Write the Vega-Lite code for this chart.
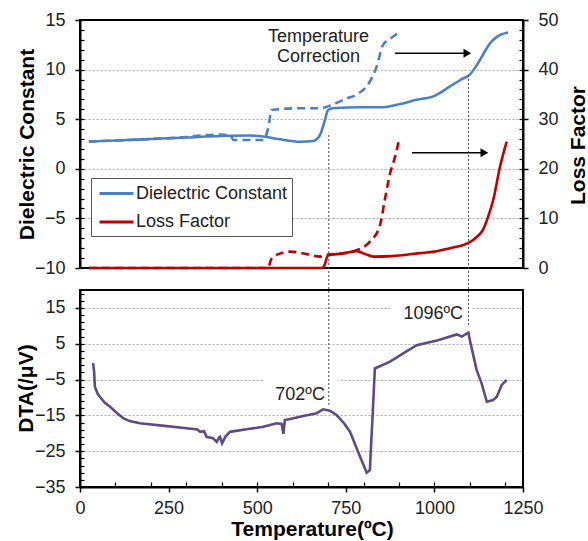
{
  "$schema": "https://vega.github.io/schema/vega-lite/v6.json",
  "width": 443,
  "height": 467,
  "autosize": {"type": "none"},
  "padding": {"left": 80, "top": 20, "right": 65, "bottom": 54},
  "background": "white",
  "config": {
    "view": {"stroke": null},
    "font": "Liberation Sans",
    "axis": {
      "labelFont": "Liberation Sans",
      "titleFont": "Liberation Sans",
      "labelFontSize": 18,
      "labelColor": "#222",
      "titleFontSize": 21,
      "titleFontWeight": "bold",
      "titleColor": "#000",
      "tickColor": "#000",
      "domainColor": "#000",
      "grid": false,
      "labelFlush": false,
      "labelOverlap": false
    },
    "legend": {"labelFont": "Liberation Sans"},
    "text": {"font": "Liberation Sans"}
  },
  "datasets": {
    "dielM": [
      {"T": 25, "v": 2.75, "s": "Dielectric Constant"}, {"T": 100, "v": 2.85, "s": "Dielectric Constant"},
      {"T": 200, "v": 3.0, "s": "Dielectric Constant"}, {"T": 300, "v": 3.15, "s": "Dielectric Constant"},
      {"T": 400, "v": 3.3, "s": "Dielectric Constant"}, {"T": 480, "v": 3.35, "s": "Dielectric Constant"},
      {"T": 517, "v": 3.25, "s": "Dielectric Constant"}, {"T": 560, "v": 3.0, "s": "Dielectric Constant"},
      {"T": 621, "v": 2.73, "s": "Dielectric Constant"}, {"T": 658, "v": 2.8, "s": "Dielectric Constant"},
      {"T": 677, "v": 3.4, "s": "Dielectric Constant"}, {"T": 691, "v": 4.9, "s": "Dielectric Constant"},
      {"T": 700, "v": 5.93, "s": "Dielectric Constant"}, {"T": 714, "v": 6.1, "s": "Dielectric Constant"},
      {"T": 790, "v": 6.2, "s": "Dielectric Constant"}, {"T": 855, "v": 6.2, "s": "Dielectric Constant"},
      {"T": 900, "v": 6.5, "s": "Dielectric Constant"}, {"T": 950, "v": 6.95, "s": "Dielectric Constant"},
      {"T": 997, "v": 7.3, "s": "Dielectric Constant"}, {"T": 1044, "v": 8.3, "s": "Dielectric Constant"},
      {"T": 1075, "v": 9.0, "s": "Dielectric Constant"}, {"T": 1100, "v": 9.5, "s": "Dielectric Constant"},
      {"T": 1115, "v": 10.2, "s": "Dielectric Constant"}, {"T": 1129, "v": 11.0, "s": "Dielectric Constant"},
      {"T": 1145, "v": 12.0, "s": "Dielectric Constant"}, {"T": 1157, "v": 12.65, "s": "Dielectric Constant"},
      {"T": 1176, "v": 13.3, "s": "Dielectric Constant"}, {"T": 1208, "v": 13.75, "s": "Dielectric Constant"}
    ],
    "dielC": [
      {"T": 25, "v": 2.75, "s": "Dielectric Constant"}, {"T": 100, "v": 2.85, "s": "Dielectric Constant"},
      {"T": 200, "v": 3.0, "s": "Dielectric Constant"}, {"T": 300, "v": 3.2, "s": "Dielectric Constant"},
      {"T": 339, "v": 3.35, "s": "Dielectric Constant"}, {"T": 395, "v": 3.45, "s": "Dielectric Constant"},
      {"T": 425, "v": 3.3, "s": "Dielectric Constant"}, {"T": 433, "v": 2.9, "s": "Dielectric Constant"},
      {"T": 517, "v": 2.9, "s": "Dielectric Constant"}, {"T": 531, "v": 4.1, "s": "Dielectric Constant"},
      {"T": 541, "v": 5.93, "s": "Dielectric Constant"}, {"T": 621, "v": 6.1, "s": "Dielectric Constant"},
      {"T": 677, "v": 6.1, "s": "Dielectric Constant"}, {"T": 714, "v": 6.5, "s": "Dielectric Constant"},
      {"T": 753, "v": 7.1, "s": "Dielectric Constant"}, {"T": 781, "v": 7.5, "s": "Dielectric Constant"},
      {"T": 818, "v": 8.8, "s": "Dielectric Constant"}, {"T": 837, "v": 10.3, "s": "Dielectric Constant"},
      {"T": 855, "v": 12.5, "s": "Dielectric Constant"}, {"T": 875, "v": 13.1, "s": "Dielectric Constant"},
      {"T": 898, "v": 13.7, "s": "Dielectric Constant"}
    ],
    "lossM": [
      {"T": 25, "v": 0, "s": "Loss Factor"}, {"T": 300, "v": 0, "s": "Loss Factor"},
      {"T": 600, "v": 0, "s": "Loss Factor"}, {"T": 682, "v": 0, "s": "Loss Factor"},
      {"T": 690, "v": 0.6, "s": "Loss Factor"}, {"T": 700, "v": 2.6, "s": "Loss Factor"},
      {"T": 740, "v": 2.9, "s": "Loss Factor"}, {"T": 781, "v": 3.4, "s": "Loss Factor"},
      {"T": 805, "v": 2.8, "s": "Loss Factor"}, {"T": 828, "v": 2.3, "s": "Loss Factor"},
      {"T": 880, "v": 2.4, "s": "Loss Factor"}, {"T": 959, "v": 3.0, "s": "Loss Factor"},
      {"T": 1000, "v": 3.3, "s": "Loss Factor"}, {"T": 1044, "v": 4.0, "s": "Loss Factor"},
      {"T": 1080, "v": 4.6, "s": "Loss Factor"}, {"T": 1100, "v": 5.2, "s": "Loss Factor"},
      {"T": 1120, "v": 6.3, "s": "Loss Factor"}, {"T": 1137, "v": 7.7, "s": "Loss Factor"},
      {"T": 1150, "v": 10.0, "s": "Loss Factor"}, {"T": 1166, "v": 13.7, "s": "Loss Factor"},
      {"T": 1185, "v": 20.4, "s": "Loss Factor"}, {"T": 1204, "v": 25.5, "s": "Loss Factor"}
    ],
    "lossC": [
      {"T": 25, "v": 0, "s": "Loss Factor"}, {"T": 300, "v": 0, "s": "Loss Factor"},
      {"T": 531, "v": 0, "s": "Loss Factor"}, {"T": 538, "v": 1.5, "s": "Loss Factor"},
      {"T": 545, "v": 2.3, "s": "Loss Factor"}, {"T": 593, "v": 3.3, "s": "Loss Factor"},
      {"T": 640, "v": 2.8, "s": "Loss Factor"}, {"T": 677, "v": 2.3, "s": "Loss Factor"},
      {"T": 700, "v": 2.7, "s": "Loss Factor"}, {"T": 734, "v": 2.9, "s": "Loss Factor"},
      {"T": 781, "v": 3.6, "s": "Loss Factor"}, {"T": 818, "v": 5.3, "s": "Loss Factor"},
      {"T": 846, "v": 8.5, "s": "Loss Factor"}, {"T": 860, "v": 13.7, "s": "Loss Factor"},
      {"T": 875, "v": 19.1, "s": "Loss Factor"}, {"T": 889, "v": 22.4, "s": "Loss Factor"},
      {"T": 900, "v": 25.8, "s": "Loss Factor"}
    ],
    "dta": [
      {"T": 37, "v": -0.4}, {"T": 40, "v": -3}, {"T": 42, "v": -7}, {"T": 50, "v": -9},
      {"T": 56, "v": -9.8}, {"T": 70, "v": -11.5}, {"T": 85, "v": -12.6}, {"T": 100, "v": -14},
      {"T": 122, "v": -15.8}, {"T": 140, "v": -16.6}, {"T": 169, "v": -17.2}, {"T": 245, "v": -18},
      {"T": 320, "v": -18.8}, {"T": 330, "v": -18.9}, {"T": 339, "v": -19.6}, {"T": 350, "v": -19.4},
      {"T": 357, "v": -21}, {"T": 375, "v": -21.4}, {"T": 386, "v": -22.4}, {"T": 392, "v": -21.2},
      {"T": 395, "v": -21}, {"T": 401, "v": -22.8}, {"T": 410, "v": -21}, {"T": 423, "v": -19.6},
      {"T": 470, "v": -18.9}, {"T": 517, "v": -18.2}, {"T": 555, "v": -17.2}, {"T": 569, "v": -17.4},
      {"T": 574, "v": -20.2}, {"T": 578, "v": -16.3}, {"T": 593, "v": -16.0}, {"T": 630, "v": -15.2},
      {"T": 668, "v": -14.4}, {"T": 686, "v": -13.3}, {"T": 705, "v": -13.7}, {"T": 724, "v": -14.9},
      {"T": 745, "v": -17.2}, {"T": 762, "v": -19.6}, {"T": 790, "v": -26.5}, {"T": 809, "v": -31},
      {"T": 818, "v": -30.3}, {"T": 822, "v": -22}, {"T": 826, "v": -14.4}, {"T": 832, "v": -1.9},
      {"T": 875, "v": 0}, {"T": 920, "v": 2.8}, {"T": 950, "v": 4.6}, {"T": 1010, "v": 6.0},
      {"T": 1063, "v": 7.6}, {"T": 1077, "v": 7.0}, {"T": 1096, "v": 8.1}, {"T": 1100, "v": 6.0},
      {"T": 1119, "v": -2.3}, {"T": 1133, "v": -6}, {"T": 1148, "v": -11.2}, {"T": 1166, "v": -10.7},
      {"T": 1176, "v": -9.8}, {"T": 1190, "v": -6.5}, {"T": 1204, "v": -5.1}
    ],
    "boxTop": [{"x1": 0, "x2": 1250, "y1": -10, "y2": 15}],
    "boxBottom": [{"x1": 0, "x2": 1250, "y1": -35, "y2": 20}],
    "labelBg": [
      {"x1": 516, "x2": 728, "y1": -3.3, "y2": -11.5},
      {"x1": 875, "x2": 1106, "y1": 17.5, "y2": 10}
    ],
    "vlines": [
      {"T": 702, "y1": 3.41, "y2": -23.98},
      {"T": 1096, "y1": 9.46, "y2": -15.92}
    ],
    "arrows": [
      {"x1": 889, "x2": 1093, "y": 11.64},
      {"x1": 937, "x2": 1141, "y": 1.62}
    ],
    "notesTop": [
      {"T": 673, "v": 13.24, "t": "Temperature"},
      {"T": 673, "v": 11.32, "t": "Correction"}
    ],
    "notesBottom": [
      {"T": 691, "v": -9.3, "t": "702ºC"},
      {"T": 1081, "v": 13.4, "t": "1096ºC"}
    ]
  },
  "layer": [
    {
      "data": {"name": "boxTop"},
      "mark": {"type": "rect", "filled": false, "stroke": "#000", "strokeWidth": 2},
      "encoding": {
        "x": {"field": "x1", "type": "quantitative", "scale": {"domain": [0, 1250], "nice": false, "zero": false},
          "axis": {"orient": "bottom", "values": [100, 200, 300, 400, 500, 600, 700, 800, 900, 1000, 1100, 1200], "tickSize": -5, "tickWidth": 1.2, "labels": false, "domain": false, "title": null, "grid": false}},
        "x2": {"field": "x2"},
        "y": {"field": "y1", "type": "quantitative", "scale": {"domain": [-10, 15], "range": [248, 0], "nice": false, "zero": false},
          "axis": {"orient": "left", "values": [-10, -9, -8, -7, -6, -5, -4, -3, -2, -1, 0, 1, 2, 3, 4, 5, 6, 7, 8, 9, 10, 11, 12, 13, 14, 15], "tickSize": -4, "tickWidth": 1.2, "labels": false, "domain": false, "title": null, "grid": false}},
        "y2": {"field": "y2"}
      }
    },
    {
      "data": {"name": "boxBottom"},
      "mark": {"type": "rect", "filled": false, "stroke": "#000", "strokeWidth": 2},
      "encoding": {
        "x": {"field": "x1", "type": "quantitative", "scale": {"domain": [0, 1250], "nice": false, "zero": false}, "axis": null},
        "x2": {"field": "x2"},
        "y": {"field": "y1", "type": "quantitative", "scale": {"domain": [-35, 20], "range": [467, 270], "nice": false, "zero": false},
          "axis": {"orient": "left", "values": [-35, -33, -31, -29, -27, -25, -23, -21, -19, -17, -15, -13, -11, -9, -7, -5, -3, -1, 1, 3, 5, 7, 9, 11, 13, 15, 17, 19], "tickSize": -4, "tickWidth": 1.2, "labels": false, "domain": false, "title": null, "grid": false}},
        "y2": {"field": "y2"}
      }
    },
    {
      "data": {"name": "labelBg"},
      "mark": {"type": "rect", "fill": "white", "stroke": null},
      "encoding": {
        "x": {"field": "x1", "type": "quantitative", "scale": {"domain": [0, 1250], "nice": false, "zero": false}, "axis": null},
        "x2": {"field": "x2"},
        "y": {"field": "y1", "type": "quantitative", "scale": {"domain": [-35, 20], "range": [467, 270], "nice": false, "zero": false}, "axis": null},
        "y2": {"field": "y2"}
      }
    },
    {
      "data": {"name": "dielM"},
      "mark": {"type": "line", "strokeWidth": 2.6, "interpolate": "monotone"},
      "encoding": {
        "x": {"field": "T", "type": "quantitative", "scale": {"domain": [0, 1250], "nice": false, "zero": false},
          "axis": {"orient": "bottom", "values": [0, 250, 500, 750, 1000, 1250], "format": "d", "tickSize": 5, "tickWidth": 1.5, "domainWidth": 2, "labelPadding": 7, "title": "Temperature(ºC)", "titleX": 232, "titleY": 42, "titleBaseline": "middle", "grid": false}},
        "y": {"field": "v", "type": "quantitative", "scale": {"domain": [-10, 15], "range": [248, 0], "nice": false, "zero": false},
          "axis": {"orient": "left", "values": [-10, -5, 0, 5, 10, 15], "tickSize": 5, "tickWidth": 1.5, "domainWidth": 2, "labelPadding": 10, "grid": true, "gridColor": "#aaa", "gridDash": [2, 2], "gridWidth": 1, "title": "Dielectric Constant", "titleX": -53, "titleY": 124, "titleBaseline": "middle", "titleAngle": 270}},
        "color": {"field": "s", "type": "nominal",
          "scale": {"domain": ["Dielectric Constant", "Loss Factor"], "range": ["#4a80c4", "#c00000"]},
          "legend": {"orient": "none", "legendX": 11, "legendY": 158, "title": null, "symbolType": "M-1.7,0H1.7", "symbolSize": 400, "symbolStrokeWidth": 3, "symbolOffset": 10, "labelFontSize": 18, "labelColor": "#222", "labelOffset": 8, "padding": 4, "rowPadding": 7.6, "strokeColor": "#555", "fillColor": "white", "zindex": 1}}
      }
    },
    {
      "data": {"name": "dielC"},
      "mark": {"type": "line", "strokeWidth": 2.6, "strokeDash": [8, 5], "interpolate": "monotone"},
      "encoding": {
        "x": {"field": "T", "type": "quantitative", "scale": {"domain": [0, 1250], "nice": false, "zero": false}, "axis": null},
        "y": {"field": "v", "type": "quantitative", "scale": {"domain": [-10, 15], "range": [248, 0], "nice": false, "zero": false}, "axis": null},
        "color": {"field": "s", "type": "nominal"}
      }
    },
    {
      "data": {"name": "lossM"},
      "mark": {"type": "line", "strokeWidth": 2.6, "interpolate": "monotone"},
      "encoding": {
        "x": {"field": "T", "type": "quantitative", "scale": {"domain": [0, 1250], "nice": false, "zero": false}, "axis": null},
        "y": {"field": "v", "type": "quantitative", "scale": {"domain": [0, 50], "range": [248, 0], "nice": false, "zero": false},
          "axis": {"orient": "right", "values": [0, 10, 20, 30, 40, 50], "tickSize": 5, "tickWidth": 1.5, "domainWidth": 2, "labelPadding": 10, "grid": false, "title": "Loss Factor", "titleX": 55, "titleY": 125, "titleBaseline": "middle", "titleAngle": 270}},
        "color": {"field": "s", "type": "nominal"}
      }
    },
    {
      "data": {"name": "lossC"},
      "mark": {"type": "line", "strokeWidth": 2.6, "strokeDash": [8, 5], "interpolate": "monotone"},
      "encoding": {
        "x": {"field": "T", "type": "quantitative", "scale": {"domain": [0, 1250], "nice": false, "zero": false}, "axis": null},
        "y": {"field": "v", "type": "quantitative", "scale": {"domain": [0, 50], "range": [248, 0], "nice": false, "zero": false},
          "axis": {"orient": "right", "values": [0, 2, 4, 6, 8, 10, 12, 14, 16, 18, 20, 22, 24, 26, 28, 30, 32, 34, 36, 38, 40, 42, 44, 46, 48, 50], "tickSize": -4, "tickWidth": 1.2, "labels": false, "domain": false, "title": null, "grid": false}},
        "color": {"field": "s", "type": "nominal"}
      }
    },
    {
      "data": {"name": "dta"},
      "mark": {"type": "line", "strokeWidth": 2.6, "color": "#5e4a86"},
      "encoding": {
        "x": {"field": "T", "type": "quantitative", "scale": {"domain": [0, 1250], "nice": false, "zero": false}, "axis": null},
        "y": {"field": "v", "type": "quantitative", "scale": {"domain": [-35, 20], "range": [467, 270], "nice": false, "zero": false},
          "axis": {"orient": "left", "values": [-35, -25, -15, -5, 5, 15], "tickSize": 5, "tickWidth": 1.5, "domainWidth": 2, "labelPadding": 10, "grid": true, "gridColor": "#aaa", "gridDash": [2, 2], "gridWidth": 1, "title": "DTA(/μV)", "titleX": -54, "titleY": 368, "titleBaseline": "middle", "titleAngle": 270}}
      }
    },
    {
      "data": {"name": "vlines"},
      "mark": {"type": "rule", "color": "#444", "strokeWidth": 1, "strokeDash": [2, 2]},
      "encoding": {
        "x": {"field": "T", "type": "quantitative", "scale": {"domain": [0, 1250], "nice": false, "zero": false}, "axis": null},
        "y": {"field": "y1", "type": "quantitative", "scale": {"domain": [-10, 15], "range": [248, 0], "nice": false, "zero": false}, "axis": null},
        "y2": {"field": "y2"}
      }
    },
    {
      "data": {"name": "arrows"},
      "mark": {"type": "rule", "color": "#000", "strokeWidth": 1.5},
      "encoding": {
        "x": {"field": "x1", "type": "quantitative", "scale": {"domain": [0, 1250], "nice": false, "zero": false}, "axis": null},
        "x2": {"field": "x2"},
        "y": {"field": "y", "type": "quantitative", "scale": {"domain": [-10, 15], "range": [248, 0], "nice": false, "zero": false}, "axis": null}
      }
    },
    {
      "data": {"name": "arrows"},
      "mark": {"type": "point", "shape": "triangle-right", "filled": true, "size": 80, "color": "#000", "opacity": 1},
      "encoding": {
        "x": {"field": "x2", "type": "quantitative", "scale": {"domain": [0, 1250], "nice": false, "zero": false}, "axis": null},
        "y": {"field": "y", "type": "quantitative", "scale": {"domain": [-10, 15], "range": [248, 0], "nice": false, "zero": false}, "axis": null}
      }
    },
    {
      "data": {"name": "notesTop"},
      "mark": {"type": "text", "fontSize": 18, "color": "#222", "align": "center", "baseline": "middle"},
      "encoding": {
        "x": {"field": "T", "type": "quantitative", "scale": {"domain": [0, 1250], "nice": false, "zero": false}, "axis": null},
        "y": {"field": "v", "type": "quantitative", "scale": {"domain": [-10, 15], "range": [248, 0], "nice": false, "zero": false}, "axis": null},
        "text": {"field": "t"}
      }
    },
    {
      "data": {"name": "notesBottom"},
      "mark": {"type": "text", "fontSize": 18, "color": "#222", "align": "right", "baseline": "middle"},
      "encoding": {
        "x": {"field": "T", "type": "quantitative", "scale": {"domain": [0, 1250], "nice": false, "zero": false}, "axis": null},
        "y": {"field": "v", "type": "quantitative", "scale": {"domain": [-35, 20], "range": [467, 270], "nice": false, "zero": false}, "axis": null},
        "text": {"field": "t"}
      }
    }
  ],
  "resolve": {"scale": {"y": "independent"}, "axis": {"x": "independent", "y": "independent"}}
}
